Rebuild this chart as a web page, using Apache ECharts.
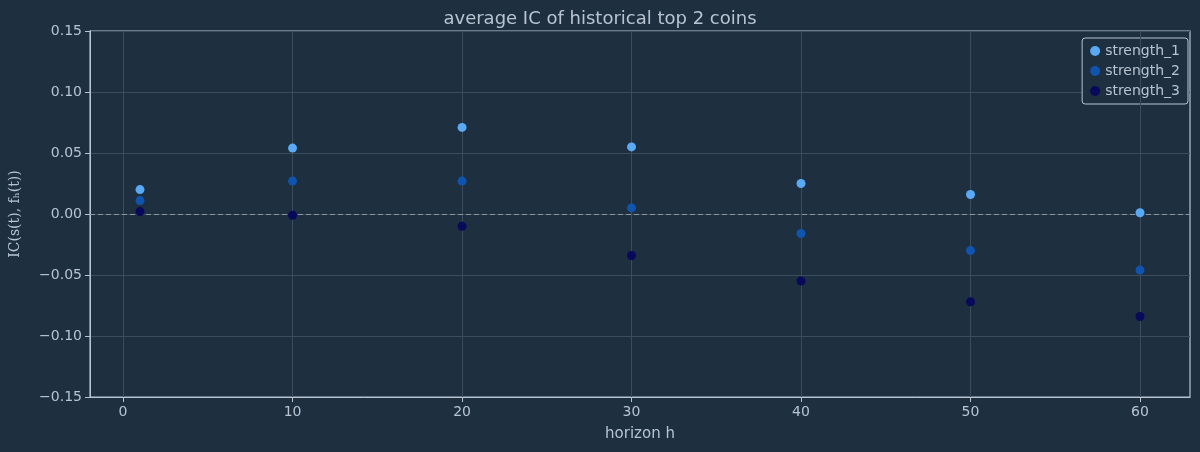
<!DOCTYPE html>
<html>
<head>
<meta charset="utf-8">
<script src="https://cdn.jsdelivr.net/npm/echarts@6/dist/echarts.min.js"></script>
<style>html,body{margin:0;background:#1e2f40;}#main{width:1200px;height:452px;}</style>
</head>
<body>
<div id="main"></div>
<script>
var horizons = [1, 10, 20, 30, 40, 50, 60];
var strength1 = [0.020, 0.054, 0.071, 0.055, 0.025, 0.016, 0.001];
var strength2 = [0.011, 0.027, 0.027, 0.005, -0.016, -0.030, -0.046];
var strength3 = [0.002, -0.001, -0.010, -0.034, -0.055, -0.072, -0.084];
var xTicks = [0, 10, 20, 30, 40, 50, 60];

var txt = '#b8c4d0';
function pts(arr) { return horizons.map(function (h, i) { return [h, arr[i]]; }); }

var chart = echarts.init(document.getElementById('main'));
var gridLines = xTicks.map(function (v) { return { xAxis: v }; });

chart.setOption({
  backgroundColor: '#1e2f40',
  animation: false,
  title: { text: 'average IC of historical top 2 coins', left: 'center', top: 5,
    textStyle: { color: txt, fontSize: 18, fontWeight: 'normal', fontFamily: 'DejaVu Sans' } },
  legend: {
    right: 12, top: 38, orient: 'vertical', itemGap: 6, icon: 'circle',
    backgroundColor: '#1e2f40', borderColor: '#b8c4d0', borderWidth: 1, borderRadius: 3, padding: [6, 8],
    textStyle: { color: txt, fontSize: 14, fontFamily: 'DejaVu Sans' },
    itemWidth: 10, itemHeight: 10
  },
  grid: { left: 87, right: 10, top: 31, bottom: 55, show: true, borderColor: '#b8c4d0', borderWidth: 1.2 },
  xAxis: {
    type: 'value', min: -1.95, max: 62.95,
    name: 'horizon h', nameLocation: 'middle', nameGap: 30,
    nameTextStyle: { color: txt, fontSize: 15, fontFamily: 'DejaVu Sans' },
    axisLine: { onZero: false, lineStyle: { color: '#b8c4d0' } },
    axisTick: { show: true, customValues: xTicks, lineStyle: { color: '#b8c4d0' } },
    axisLabel: { customValues: xTicks, color: txt, fontSize: 14, fontFamily: 'DejaVu Sans' },
    splitLine: { show: false }
  },
  yAxis: {
    type: 'value', min: -0.15, max: 0.15, interval: 0.05,
    name: 'IC(s(t), fₕ(t))', nameLocation: 'middle', nameGap: 68,
    nameTextStyle: { color: txt, fontSize: 14, fontFamily: 'DejaVu Serif' },
    axisLine: { show: true, onZero: false, lineStyle: { color: '#b8c4d0' } },
    axisTick: { show: true, lineStyle: { color: '#b8c4d0' } },
    axisLabel: { color: txt, fontSize: 14, fontFamily: 'DejaVu Sans',
      formatter: function (v) { return (v < 0 ? '\u2212' : '') + Math.abs(v).toFixed(2); } },
    splitLine: { lineStyle: { color: '#3b4c5c', width: 1 } }
  },
  series: [
    { name: 'strength_1', type: 'scatter', symbolSize: 9, itemStyle: { color: '#5aa9f5', opacity: 1 }, data: pts(strength1), z: 5,
      markLine: { silent: true, symbol: 'none', label: { show: false },
        lineStyle: { color: '#3b4c5c', type: 'solid', width: 1 }, data: gridLines } },
    { name: 'strength_2', type: 'scatter', symbolSize: 9, itemStyle: { color: '#0f55b0', opacity: 1 }, data: pts(strength2), z: 5,
      markLine: { silent: true, symbol: 'none', label: { show: false },
        lineStyle: { color: '#8e98a2', type: [5, 3], width: 1 }, data: [{ yAxis: 0 }] } },
    { name: 'strength_3', type: 'scatter', symbolSize: 9, itemStyle: { color: '#08095a', opacity: 1 }, data: pts(strength3), z: 5 }
  ]
});
</script>
</body>
</html>
